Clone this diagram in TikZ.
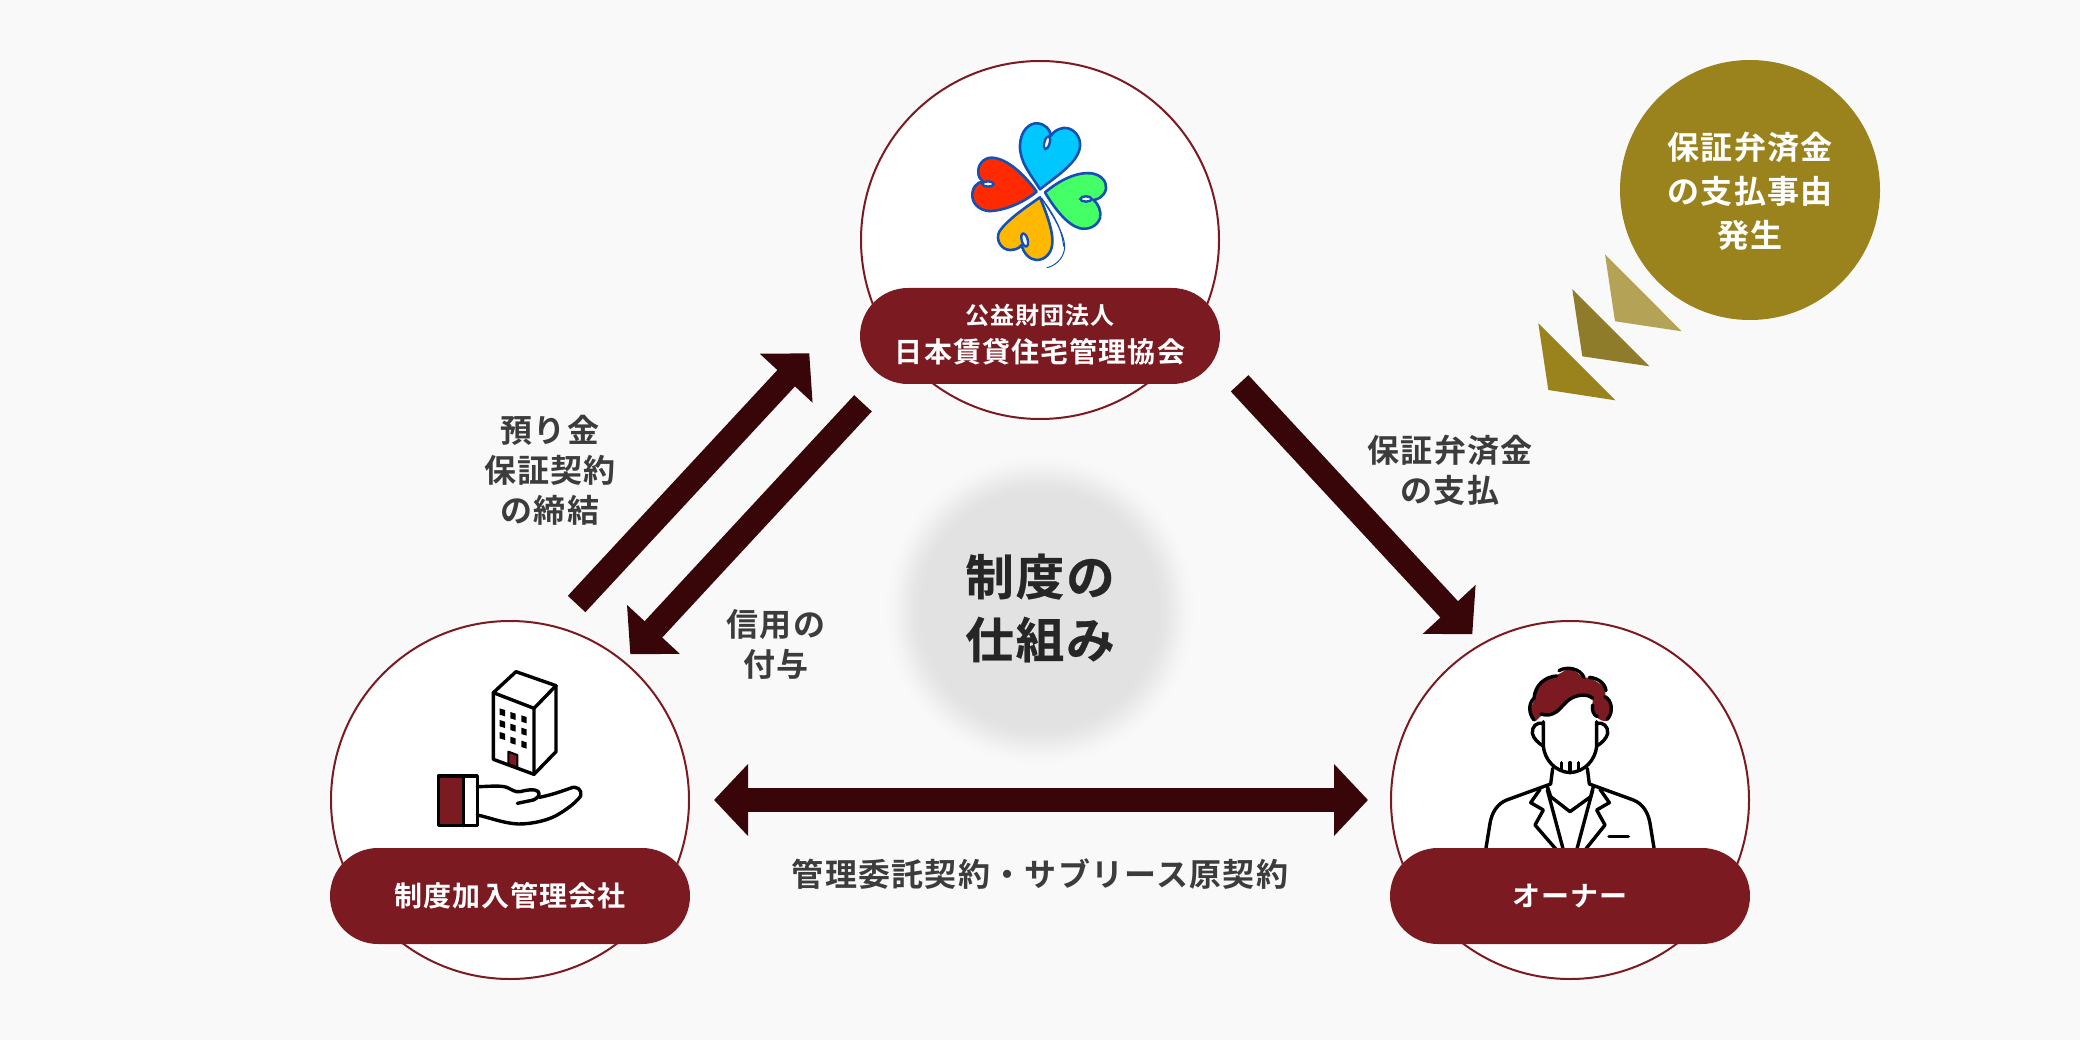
\documentclass[tikz,border=0pt]{standalone}
\usepackage{fontspec}
\setmainfont{Noto Sans CJK JP}[LetterSpace=4,BoldFont={Noto Sans CJK JP Bold}]
\newfontfamily\jpheavy{Noto Sans CJK JP Bold}[LetterSpace=4,FakeBold=0.5]
\usetikzlibrary{arrows.meta}
\definecolor{bgc}{HTML}{F9F9F9}
\definecolor{maroon}{HTML}{7B1A20}
\definecolor{arrowc}{HTML}{380509}
\definecolor{goldc}{HTML}{9A821C}
\definecolor{gold2}{HTML}{8F7C2B}
\definecolor{gold3}{HTML}{B4A257}
\definecolor{txt}{HTML}{3C3C3C}
\definecolor{txtc}{HTML}{262626}
\definecolor{glowc}{HTML}{E2E2E2}
\definecolor{leafline}{HTML}{1450B4}
\tikzset{
 x=1pt,y=-1pt,
 party/.style={circle,draw=maroon,line width=2pt,fill=white,minimum size=358pt,inner sep=0pt},
 pill/.style={fill=maroon,rounded corners=48pt,minimum width=360pt,minimum height=96pt,inner sep=0pt,text=white,font=\fontsize{28}{33}\selectfont\bfseries},
 pilltxt/.style={text=white,inner sep=0pt,font=\fontsize{28}{33}\selectfont\bfseries},
 label/.style={text=txt,inner sep=0pt,align=center,font=\fontsize{32}{40}\selectfont\bfseries},
 flow/.style={draw=arrowc,line width=24pt,-{Triangle[length=34pt,width=70pt,fill=arrowc]}},
 flowboth/.style={draw=arrowc,line width=24pt,{Triangle[length=34pt,width=70pt,fill=arrowc]}-{Triangle[length=34pt,width=70pt,fill=arrowc]}},
 icon/.style={draw=black,line width=3.4pt,line cap=round,line join=round},
 leaf/.style={draw=leafline,line width=2.6pt,line join=round},
 leafloop/.style={draw=leafline,line width=2.4pt,fill=white}
}
\begin{document}
\begin{tikzpicture}
\fill[bgc] (0,0) rectangle (2080,1040);
\useasboundingbox (0,0) rectangle (2080,1040);
% centre glow
\foreach \r in {158,157,...,115}{
 \pgfmathsetmacro\tt{(\r-115)/43}
 \pgfmathsetmacro\pp{100*(1-\tt*\tt*(3-2*\tt))}
 \fill[glowc!\pp!bgc] (1040,610) circle[radius=\r pt];
}
% parties
\node[party] (assoc) at (1040,240) {};
\node[party] (company) at (510,800) {};
\node[party] (owner) at (1570,800) {};
% clover
\begin{scope}[shift={(920,90)},x=0.33333pt,y=-0.33333pt]
\filldraw[leaf,fill={rgb,255:red,0;green,200;blue,255}] (360,298) .. controls (330,250) and (298,215) .. (300,165) .. controls (302,120) and (330,98) .. (352,100) .. controls (375,102) and (392,118) .. (392,138) .. controls (405,118) and (430,110) .. (445,115) .. controls (475,125) and (485,155) .. (478,180) .. controls (465,225) and (400,265) .. (360,298) -- cycle;
\draw[leafloop] (381,158) ellipse[x radius=8,y radius=20,rotate=-15];
\filldraw[leaf,fill={rgb,255:red,255;green,42;blue,0}] (350,305) .. controls (310,250) and (260,205) .. (215,203) .. controls (190,203) and (172,225) .. (175,250) .. controls (176,262) and (182,270) .. (190,275) .. controls (170,275) and (155,295) .. (157,320) .. controls (160,350) and (190,365) .. (215,363) .. controls (270,358) and (320,330) .. (350,305) -- cycle;
\draw[leafloop] (204,282) ellipse[x radius=17,y radius=8];
\filldraw[leaf,fill={rgb,255:red,68;green,255;blue,102}] (375,307) .. controls (420,270) and (470,245) .. (515,250) .. controls (545,255) and (560,275) .. (558,295) .. controls (555,320) and (530,330) .. (520,330) .. controls (535,340) and (545,365) .. (540,385) .. controls (530,410) and (505,420) .. (480,415) .. controls (440,405) and (400,350) .. (375,307) -- cycle;
\draw[leafloop] (498,327) ellipse[x radius=17,y radius=8];
\filldraw[leaf,fill={rgb,255:red,255;green,184;blue,0}] (360,322) .. controls (320,350) and (260,390) .. (238,425) .. controls (225,450) and (245,480) .. (270,480) .. controls (285,480) and (298,475) .. (305,465) .. controls (310,490) and (330,510) .. (350,510) .. controls (375,510) and (395,490) .. (397,460) .. controls (400,420) and (375,360) .. (360,322) -- cycle;
\draw[leafloop] (314,450) ellipse[x radius=9,y radius=20,rotate=15];
\draw[leafline,line width=1pt] (365,325) .. controls (400,380) and (440,440) .. (433,480) .. controls (428,510) and (400,530) .. (380,533);
\draw[leafline,line width=1pt] (365,325) .. controls (395,365) and (425,410) .. (431,470);
\end{scope}
% building and hand
\begin{scope}[shift={(420,650)},x=0.33333pt,y=-0.33333pt]
\draw[icon] (220,128) -- (288,65) -- (408,107) -- (342,175) -- cycle;
\draw[icon] (220,128) -- (220,328) -- (342,373) -- (342,175);
\draw[icon] (342,373) -- (408,305) -- (408,107);
\foreach \px/\py in {247/187,279/198,312/208,247/222,279/233,312/245,247/258,279/272,312/284}
 \fill[black] (\px-8,\py-12) -- (\px+8,\py-7) -- (\px+8,\py+12) -- (\px-8,\py+7) -- cycle;
\filldraw[icon,fill=maroon,line width=2pt] (265,305) -- (292,315) -- (292,352) -- (265,342) -- cycle;
\fill[maroon] (55,378) rectangle (130,527);
\draw[icon] (55,378) rectangle (172,527);
\draw[icon] (130,378) -- (130,527);
\draw[icon] (172,410) .. controls (200,410) and (240,405) .. (260,412) .. controls (275,418) and (285,428) .. (300,425) .. controls (320,420) and (345,415) .. (355,425) .. controls (362,435) and (352,445) .. (340,450) -- (292,460);
\draw[icon] (172,495) .. controls (210,503) and (250,520) .. (295,522) .. controls (340,522) and (390,510) .. (420,490) .. controls (445,475) and (470,455) .. (482,438) .. controls (488,420) and (470,405) .. (450,415) .. controls (430,422) and (395,435) .. (358,442);
\end{scope}
% owner
\begin{scope}[shift={(1460,650)},x=0.33333pt,y=-0.33333pt]
\fill[maroon] plot[smooth cycle,tension=0.5] coordinates {(225,213) (212,180) (226,142) (228,115) (252,88) (297,72) (330,56) (368,80) (395,87) (433,112) (437,140) (454,172) (442,212) (414,205) (398,175) (396,145) (360,134) (325,152) (292,190) (248,195)};
\draw[icon] (222,145) .. controls (225,105) and (255,80) .. (290,78);
\draw[icon] (297,62) .. controls (320,48) and (360,55) .. (372,82);
\draw[icon] (388,82) .. controls (415,85) and (435,100) .. (438,122);
\draw[icon] (435,140) .. controls (455,150) and (462,185) .. (442,208);
\draw[icon] (222,145) .. controls (205,160) and (205,190) .. (222,210);
\draw[icon] (243,192) .. controls (280,205) and (300,175) .. (320,155) .. controls (340,135) and (380,128) .. (398,145);
\draw[icon] (398,165) .. controls (395,180) and (400,195) .. (412,200);
\draw[icon] (250,215) -- (250,290) .. controls (255,330) and (285,365) .. (330,368) .. controls (375,365) and (405,330) .. (410,290) -- (410,215);
\draw[icon] (250,220) .. controls (230,215) and (215,230) .. (217,250) .. controls (220,265) and (235,280) .. (250,288);
\draw[icon] (410,220) .. controls (430,215) and (445,230) .. (443,250) .. controls (440,265) and (425,280) .. (410,288);
\draw[icon] (305,338) -- (305,360) (330,338) -- (330,366) (355,338) -- (355,360);
\draw[icon] (278,355) -- (272,402) (382,355) -- (388,402);
\draw[icon] (262,410) -- (272,440) -- (330,485) -- (392,440) -- (400,410);
\draw[icon] (272,402) -- (140,450) .. controls (110,462) and (95,490) .. (90,520) -- (77,600);
\draw[icon] (388,402) -- (520,450) .. controls (550,462) and (565,490) .. (570,520) -- (583,600);
\draw[icon] (240,418) -- (212,458) -- (250,480) -- (225,525) -- (290,600);
\draw[icon] (262,420) -- (310,600);
\draw[icon] (420,418) -- (448,458) -- (410,480) -- (435,525) -- (375,600);
\draw[icon] (398,420) -- (350,600);
\draw[icon] (447,560) -- (505,560);
\end{scope}
% pills
\node[pill] (assocpill) at (1040,336) {};
\node[pill] (companypill) at (510,896) {制度加入管理会社};
\node[pill] (ownerpill) at (1570,896) {オーナー};
\node[pilltxt,font=\fontsize{24}{28}\selectfont\bfseries] (assoc1) at (1040,315) {公益財団法人};
\node[pilltxt] (assoc2) at (1040,352) {日本賃貸住宅管理協会};
% event
\node[circle,fill=goldc,minimum size=260pt,inner sep=0pt] (event) at (1750,190) {};
\node[text=white,inner sep=0pt,align=center,font=\fontsize{32}{44}\selectfont\bfseries] (eventtext) at (1750,191) {保証弁済金\\の支払事由\\発生};
\fill[goldc] (1538.3,323.3) -- (1548.3,390) -- (1615.3,400.3) -- cycle;
\fill[gold2] (1572.3,289.3) -- (1582.3,356.3) -- (1649.3,366.3) -- cycle;
\fill[gold3] (1605,254.3) -- (1615,321.3) -- (1681.7,331.3) -- cycle;
% connectors
\coordinate (a1s) at (576.6,604);
\coordinate (a1e) at (809.3,353.3);
\coordinate (a2s) at (863,403.3);
\coordinate (a2e) at (630.3,654.3);
\coordinate (a3s) at (1239.6,383.3);
\coordinate (a3e) at (1472.3,634.3);
\coordinate (a4s) at (714,800);
\coordinate (a4e) at (1368,800);
\draw[flow] (a1s) -- (a1e);
\draw[flow] (a2s) -- (a2e);
\draw[flow] (a3s) -- (a3e);
\draw[flowboth] (a4s) -- (a4e);
% labels
\node[label] (deposit) at (550,470) {預り金\\保証契約\\の締結};
\node[label] (credit) at (776,644) {信用の\\付与};
\node[label] (payment) at (1450,470) {保証弁済金\\の支払};
\node[label] (contract) at (1040,874) {管理委託契約・サブリース原契約};
\node[text=txtc,inner sep=0pt,align=center,font=\fontsize{48.5}{63}\selectfont\jpheavy] (center) at (1040,608) {制度の\\仕組み};
\end{tikzpicture}
\end{document}
